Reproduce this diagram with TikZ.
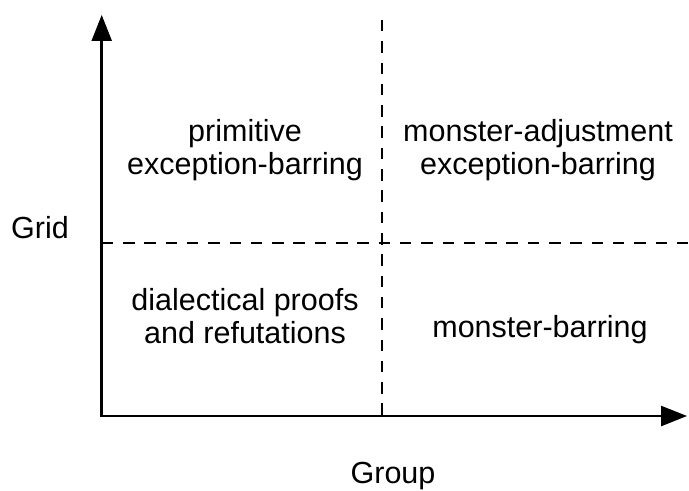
\documentclass[tikz,border=0pt]{standalone}
\usepackage{fontspec}
\setmainfont{Liberation Sans}
\usetikzlibrary{arrows.meta}

\tikzset{
  axisline/.style={line width=2.5bp, line join=miter, black},
  divider/.style={line width=2.3bp, black, dash pattern=on 11.5bp off 9.8bp},
  label/.style={inner sep=0pt, align=center, anchor=base,
    font=\fontsize{30.5bp}{32.5bp}\selectfont}
}

\begin{document}
\begin{tikzpicture}[x=1bp,y=-1bp]
  \useasboundingbox (0,0) rectangle (689,491);

  % axes
  \coordinate (origin) at (101.7,416);
  \coordinate (ytip)   at (101.7,15);
  \coordinate (xtip)   at (687,416);

  % quadrant dividers
  \coordinate (vtop) at (381.7,20);
  \coordinate (vbot) at (381.7,416);
  \coordinate (hleft)  at (101.7,243);
  \coordinate (hright) at (689,243);

  \draw[divider] (vtop) -- (vbot);
  \draw[divider] (hleft) -- (hright);

  \draw[axisline, {Triangle[length=26bp,width=20bp]}-{Triangle[length=26bp,width=20bp]}]
    (ytip) -- (origin) -- (xtip);

  % axis labels
  \node[label] (grid)  at (40,238.3) {Grid};
  \node[label] (group) at (393,483) {Group};

  % quadrant labels (anchored at the baseline of the last line)
  \node[label] (primitive) at (245,174.5) {primitive\\exception-barring};
  \node[label] (adjust)    at (538,174.5) {monster-adjustment\\exception-barring};
  \node[label] (dialect)   at (245,343.3) {dialectical proofs\\and refutations};
  \node[label] (barring)   at (540,337) {monster-barring};
\end{tikzpicture}
\end{document}
